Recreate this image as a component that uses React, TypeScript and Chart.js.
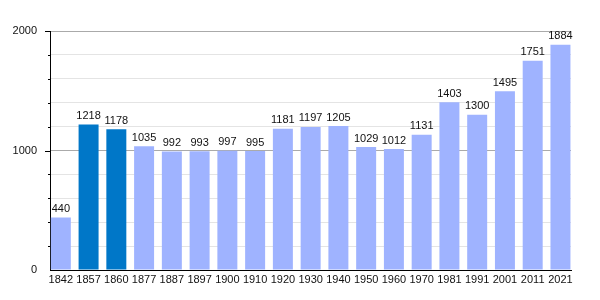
import React, { useEffect, useRef } from "react";
import { Chart, registerables } from "chart.js";

Chart.register(...registerables);

const years = ["1842", "1857", "1860", "1877", "1887", "1897", "1900", "1910", "1920", "1930", "1940", "1950", "1960", "1970", "1981", "1991", "2001", "2011", "2021"];
const population = [440, 1218, 1178, 1035, 992, 993, 997, 995, 1181, 1197, 1205, 1029, 1012, 1131, 1403, 1300, 1495, 1751, 1884];
const highlighted = ["1857", "1860"];
const yTickLabels = [0, 1000, 2000];

const LIGHT = "#9fb3ff";
const DARK = "#0077c8";
const FONT = "'Liberation Sans', Arial, sans-serif";

const valueLabels = {
  id: "valueLabels",
  afterDatasetsDraw(chart: any) {
    const ctx = chart.ctx;
    const meta = chart.getDatasetMeta(0);
    ctx.save();
    ctx.font = `11px ${FONT}`;
    ctx.fillStyle = "#111";
    ctx.textAlign = "center";
    ctx.textBaseline = "bottom";
    meta.data.forEach((el: any, i: number) => {
      ctx.fillText(String(population[i]), el.x, el.y - 3);
    });
    ctx.restore();
  },
};

const yTickMarks = {
  id: "yTickMarks",
  afterDraw(chart: any) {
    const ctx = chart.ctx;
    const ys = chart.scales.y;
    const left = chart.chartArea.left;
    ctx.save();
    ctx.strokeStyle = "#000";
    ctx.lineWidth = 1;
    ys.ticks.forEach((t: any) => {
      if (t.value === 0) return;
      const py = Math.round(ys.getPixelForValue(t.value)) + 0.5;
      const len = t.value % 1000 === 0 ? 5 : 2;
      ctx.beginPath();
      ctx.moveTo(left - len, py);
      ctx.lineTo(left, py);
      ctx.stroke();
    });
    ctx.restore();
  },
};

export default function App() {
  const ref = useRef<HTMLCanvasElement | null>(null);
  useEffect(() => {
    if (!ref.current) return;
    const chart = new Chart(ref.current, {
      type: "bar",
      data: {
        datasets: [
          {
            data: population.map((v, i) => ({ x: i, y: v })),
            backgroundColor: years.map((y) => (highlighted.includes(y) ? DARK : LIGHT)),
            borderWidth: 0,
            categoryPercentage: 0.72,
            barPercentage: 1,
          },
        ],
      },
      options: {
        responsive: false,
        animation: false,
        layout: { padding: { top: 31, right: 29, bottom: 0, left: 0 } },
        plugins: { legend: { display: false }, tooltip: { enabled: false } },
        scales: {
          x: {
            type: "linear",
            offset: false,
            min: -0.39,
            max: 18.38,
            grid: { display: false, drawTicks: false },
            border: { display: true, color: "#000", width: 1 },
            afterFit: (s: any) => { s.height = 30; },
            ticks: {
              stepSize: 1,
              includeBounds: false,
              autoSkip: false,
              maxRotation: 0,
              padding: 3,
              color: "#111",
              font: { family: FONT, size: 11 },
              callback: (v: any) => (Number.isInteger(v) && years[v] !== undefined ? years[v] : ""),
            },
          },
          y: {
            min: 0,
            max: 2000,
            afterFit: (s: any) => { s.width = 50; },
            border: { display: true, color: "#000", width: 1 },
            grid: {
              color: (c: any) => (c.tick && c.tick.value % 1000 === 0 ? "#aaaaaa" : "#e4e4e4"),
              drawTicks: false,
            },
            ticks: {
              stepSize: 200,
              autoSkip: false,
              padding: 13,
              color: "#111",
              font: { family: FONT, size: 11 },
              callback: (v: any) => (yTickLabels.includes(Number(v)) ? String(v) : ""),
            },
          },
        },
      },
      plugins: [valueLabels, yTickMarks],
    });
    return () => chart.destroy();
  }, []);
  return (
    <div style={{ position: "absolute", left: 0, top: 0, width: 600, height: 300, background: "#fff" }}>
      <canvas ref={ref} width={600} height={300} />
    </div>
  );
}
